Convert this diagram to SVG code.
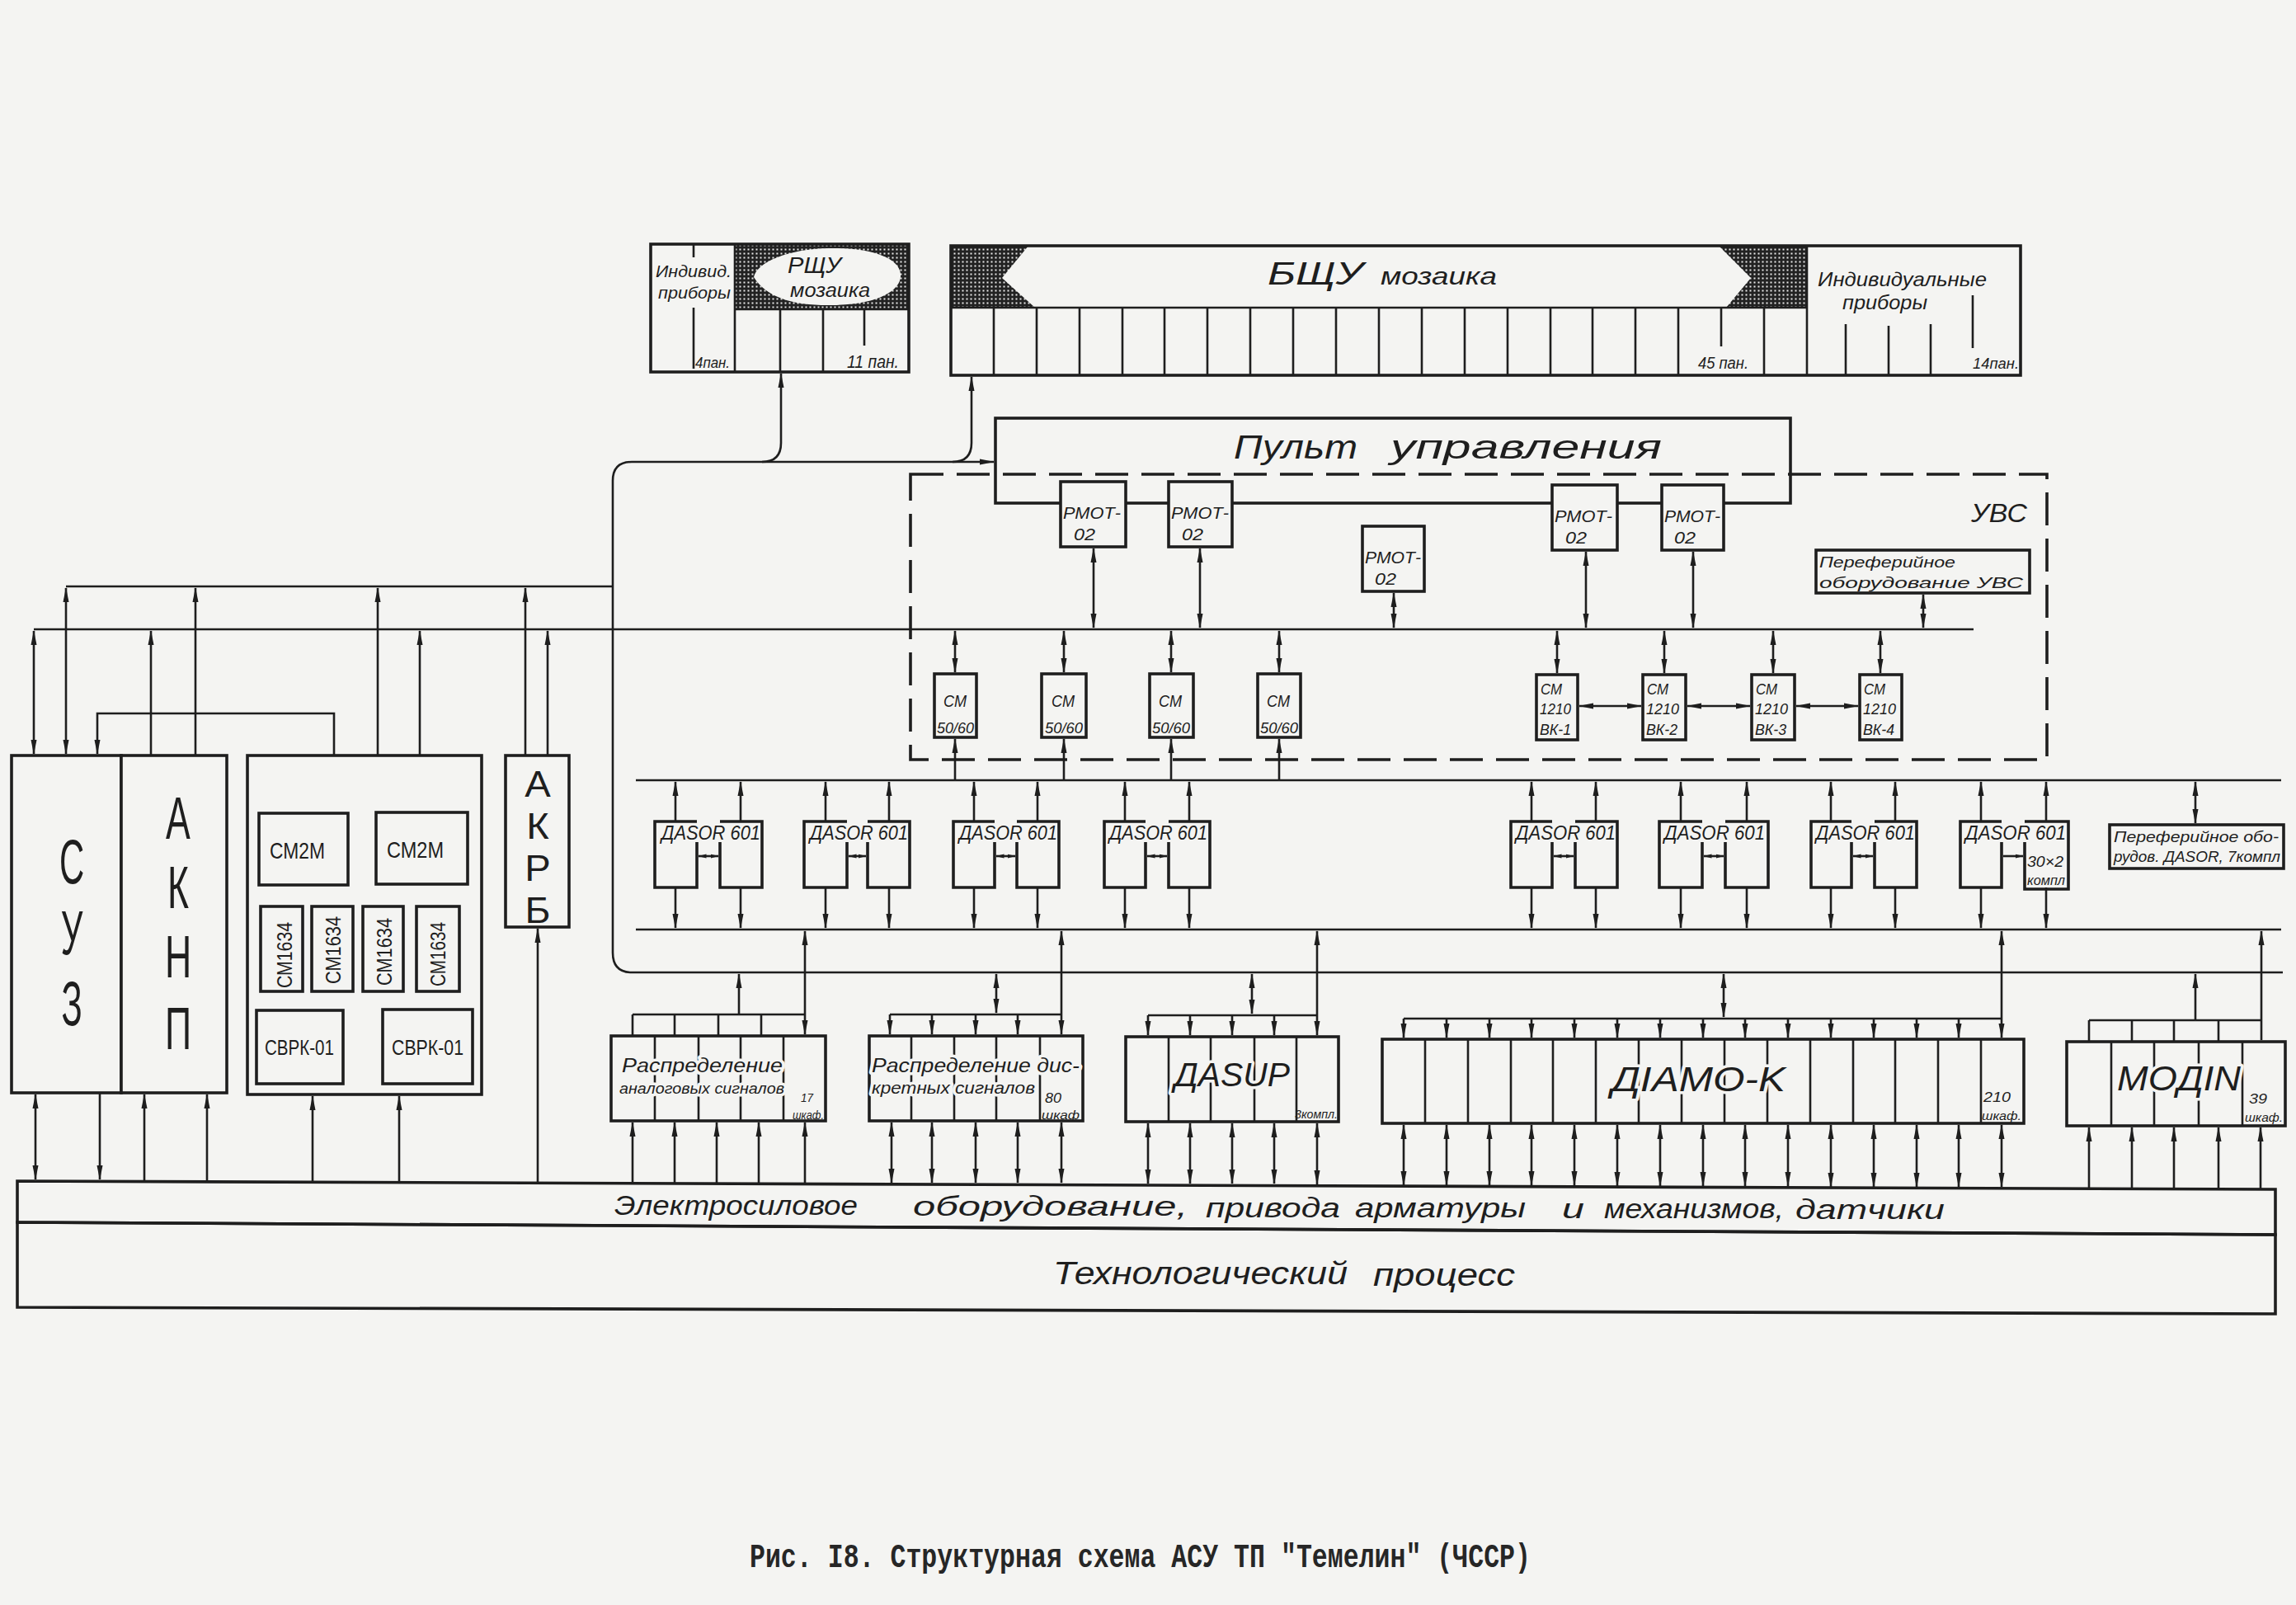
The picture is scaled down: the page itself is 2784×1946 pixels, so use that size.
<svg xmlns="http://www.w3.org/2000/svg" width="2784" height="1946" viewBox="0 0 2784 1946">
<defs>
<style>
.b{fill:none;stroke:#1e1e1e;stroke-width:3.6}
.bf{fill:#f4f4f2;stroke:#1e1e1e;stroke-width:3.6}
.c{fill:none;stroke:#1e1e1e;stroke-width:2.6}
.dash{fill:none;stroke:#1e1e1e;stroke-width:3.6;stroke-dasharray:40 16}
.e{marker-end:url(#ah)}
.d{marker-start:url(#ah);marker-end:url(#ah)}
.ds{marker-start:url(#as);marker-end:url(#as)}
.es{marker-end:url(#as)}
.h{font-family:"Liberation Sans","DejaVu Sans",sans-serif;font-style:italic;fill:#1e1e1e}
.u{font-family:"Liberation Sans","DejaVu Sans",sans-serif;fill:#1e1e1e}
.m{paint-order:stroke;stroke:#f4f4f2;stroke-width:7;stroke-linejoin:round}
.cap{font-family:"Liberation Mono","DejaVu Sans Mono",monospace;font-weight:bold;fill:#262626}
</style>
<marker id="ah" markerUnits="userSpaceOnUse" markerWidth="18" markerHeight="8" viewBox="0 0 18 8" refX="17" refY="4" orient="auto-start-reverse"><path d="M0,0.5 L18,4 L0,7.5 Z" fill="#1e1e1e"/></marker>
<marker id="as" markerUnits="userSpaceOnUse" markerWidth="10" markerHeight="6" viewBox="0 0 10 6" refX="9.5" refY="3" orient="auto-start-reverse"><path d="M0,0.5 L10,3 L0,5.5 Z" fill="#1e1e1e"/></marker>
<pattern id="hatch" width="5" height="5" patternUnits="userSpaceOnUse"><rect width="5" height="5" fill="#222"/><rect x="1.5" y="1.5" width="2" height="2" fill="#e8e8e8"/></pattern>
</defs>
<rect width="2784" height="1946" fill="#f4f4f2"/>

<g id="connectors">
<path class="c e" d="M743,1155V583Q743,560 766,560H1205"/>
<path class="c e" d="M924,560Q947,560 947,537V453"/>
<path class="c e" d="M1155,560Q1178,560 1178,537V457"/>
<path class="c" d="M743,1155Q743,1179 766,1179H2768"/>
<path class="c" d="M80,711H743"/>
<path class="c" d="M41,763H2393"/>
<path class="c" d="M771,946H2766"/>
<path class="c" d="M771,1127H2766"/>
<line class="c d" x1="80" y1="713" x2="80" y2="914"/>
<line class="c d" x1="41" y1="765" x2="41" y2="914"/>
<line class="c e" x1="237" y1="916" x2="237" y2="713"/>
<line class="c e" x1="183" y1="916" x2="183" y2="765"/>
<line class="c e" x1="458" y1="916" x2="458" y2="713"/>
<line class="c e" x1="509" y1="916" x2="509" y2="765"/>
<line class="c e" x1="637" y1="916" x2="637" y2="713"/>
<line class="c e" x1="664" y1="916" x2="664" y2="765"/>
<path class="c e" d="M405,916V865H118V914"/>
<line class="c d" x1="43" y1="1327" x2="43" y2="1430"/>
<line class="c e" x1="121" y1="1325" x2="121" y2="1430"/>
<line class="c e" x1="175" y1="1432" x2="175" y2="1327"/>
<line class="c e" x1="251" y1="1432" x2="251" y2="1327"/>
<line class="c e" x1="379" y1="1433" x2="379" y2="1329"/>
<line class="c e" x1="484" y1="1433" x2="484" y2="1329"/>
<line class="c e" x1="652" y1="1434" x2="652" y2="1126"/>
<line class="c d" x1="1326" y1="665" x2="1326" y2="761"/>
<line class="c d" x1="1455" y1="665" x2="1455" y2="761"/>
<line class="c d" x1="1690" y1="719" x2="1690" y2="761"/>
<line class="c d" x1="1923" y1="669" x2="1923" y2="761"/>
<line class="c d" x1="2053" y1="669" x2="2053" y2="761"/>
<line class="c d" x1="2332" y1="721" x2="2332" y2="761"/>
<line class="c d" x1="1158" y1="765" x2="1158" y2="815"/>
<line class="c d" x1="1290" y1="765" x2="1290" y2="815"/>
<line class="c d" x1="1420" y1="765" x2="1420" y2="815"/>
<line class="c d" x1="1551" y1="765" x2="1551" y2="815"/>
<line class="c e" x1="1158" y1="946" x2="1158" y2="896"/>
<line class="c e" x1="1290" y1="946" x2="1290" y2="896"/>
<line class="c e" x1="1420" y1="946" x2="1420" y2="896"/>
<line class="c e" x1="1551" y1="946" x2="1551" y2="896"/>
<line class="c d" x1="1888" y1="765" x2="1888" y2="816"/>
<line class="c d" x1="2018" y1="765" x2="2018" y2="816"/>
<line class="c d" x1="2150" y1="765" x2="2150" y2="816"/>
<line class="c d" x1="2280" y1="765" x2="2280" y2="816"/>
<line class="c d" x1="1915" y1="856" x2="1990" y2="856"/>
<line class="c d" x1="2046" y1="856" x2="2122" y2="856"/>
<line class="c d" x1="2178" y1="856" x2="2253" y2="856"/>
<line class="c e" x1="819" y1="996" x2="819" y2="948"/><line class="c e" x1="898" y1="996" x2="898" y2="948"/>
<line class="c e" x1="1001" y1="996" x2="1001" y2="948"/><line class="c e" x1="1078" y1="996" x2="1078" y2="948"/>
<line class="c e" x1="1181" y1="996" x2="1181" y2="948"/><line class="c e" x1="1258" y1="996" x2="1258" y2="948"/>
<line class="c e" x1="1364" y1="996" x2="1364" y2="948"/><line class="c e" x1="1442" y1="996" x2="1442" y2="948"/>
<line class="c e" x1="1857" y1="996" x2="1857" y2="948"/><line class="c e" x1="1935" y1="996" x2="1935" y2="948"/>
<line class="c e" x1="2038" y1="996" x2="2038" y2="948"/><line class="c e" x1="2118" y1="996" x2="2118" y2="948"/>
<line class="c e" x1="2220" y1="996" x2="2220" y2="948"/><line class="c e" x1="2298" y1="996" x2="2298" y2="948"/>
<line class="c e" x1="2402" y1="996" x2="2402" y2="948"/><line class="c e" x1="2481" y1="996" x2="2481" y2="948"/>
<line class="c e" x1="819" y1="1076" x2="819" y2="1125"/><line class="c e" x1="898" y1="1076" x2="898" y2="1125"/>
<line class="c e" x1="1001" y1="1076" x2="1001" y2="1125"/><line class="c e" x1="1078" y1="1076" x2="1078" y2="1125"/>
<line class="c e" x1="1181" y1="1076" x2="1181" y2="1125"/><line class="c e" x1="1258" y1="1076" x2="1258" y2="1125"/>
<line class="c e" x1="1364" y1="1076" x2="1364" y2="1125"/><line class="c e" x1="1442" y1="1076" x2="1442" y2="1125"/>
<line class="c e" x1="1857" y1="1076" x2="1857" y2="1125"/><line class="c e" x1="1935" y1="1076" x2="1935" y2="1125"/>
<line class="c e" x1="2038" y1="1076" x2="2038" y2="1125"/><line class="c e" x1="2118" y1="1076" x2="2118" y2="1125"/>
<line class="c e" x1="2220" y1="1076" x2="2220" y2="1125"/><line class="c e" x1="2298" y1="1076" x2="2298" y2="1125"/>
<line class="c e" x1="2402" y1="1076" x2="2402" y2="1125"/><line class="c e" x1="2481" y1="1076" x2="2481" y2="1125"/>
<line class="c d" x1="2662" y1="948" x2="2662" y2="998"/>
<line class="c d" x1="976" y1="1129" x2="976" y2="1254"/>
<line class="c d" x1="1287" y1="1129" x2="1287" y2="1254"/>
<line class="c d" x1="1597" y1="1129" x2="1597" y2="1255"/>
<line class="c d" x1="2427" y1="1129" x2="2427" y2="1258"/>
<line class="c e" x1="2742" y1="1261" x2="2742" y2="1129"/>
<line class="c e" x1="896" y1="1230" x2="896" y2="1181"/>
<line class="c d" x1="1208" y1="1181" x2="1208" y2="1228"/>
<line class="c d" x1="1518" y1="1181" x2="1518" y2="1229"/>
<line class="c d" x1="2090" y1="1181" x2="2090" y2="1233"/>
<line class="c e" x1="2662" y1="1237" x2="2662" y2="1181"/>
<path class="c" d="M767,1230H976M767,1230V1256M818,1230V1256M871,1230V1256M923,1230V1256"/>
<path class="c" d="M1079,1230H1287"/>
<line class="c e" x1="1079" y1="1230" x2="1079" y2="1254"/><line class="c e" x1="1130" y1="1230" x2="1130" y2="1254"/>
<line class="c e" x1="1183" y1="1230" x2="1183" y2="1254"/><line class="c e" x1="1234" y1="1230" x2="1234" y2="1254"/>
<path class="c" d="M1392,1231H1597"/>
<line class="c e" x1="1392" y1="1231" x2="1392" y2="1255"/><line class="c e" x1="1443" y1="1231" x2="1443" y2="1255"/>
<line class="c e" x1="1494" y1="1231" x2="1494" y2="1255"/><line class="c e" x1="1545" y1="1231" x2="1545" y2="1255"/>
<path class="c" d="M1702,1235H2427"/>
<line class="c e" x1="1702" y1="1235" x2="1702" y2="1258"/><line class="c e" x1="1754" y1="1235" x2="1754" y2="1258"/>
<line class="c e" x1="1806" y1="1235" x2="1806" y2="1258"/><line class="c e" x1="1857" y1="1235" x2="1857" y2="1258"/>
<line class="c e" x1="1909" y1="1235" x2="1909" y2="1258"/><line class="c e" x1="1961" y1="1235" x2="1961" y2="1258"/>
<line class="c e" x1="2013" y1="1235" x2="2013" y2="1258"/><line class="c e" x1="2065" y1="1235" x2="2065" y2="1258"/>
<line class="c e" x1="2116" y1="1235" x2="2116" y2="1258"/><line class="c e" x1="2168" y1="1235" x2="2168" y2="1258"/>
<line class="c e" x1="2220" y1="1235" x2="2220" y2="1258"/><line class="c e" x1="2272" y1="1235" x2="2272" y2="1258"/>
<line class="c e" x1="2324" y1="1235" x2="2324" y2="1258"/><line class="c e" x1="2375" y1="1235" x2="2375" y2="1258"/>
<path class="c" d="M2533,1237H2742M2533,1237V1263M2585,1237V1263M2636,1237V1263M2690,1237V1263"/>
<line class="c e" x1="767" y1="1435" x2="767" y2="1361"/><line class="c e" x1="818" y1="1435" x2="818" y2="1361"/>
<line class="c e" x1="869" y1="1435" x2="869" y2="1361"/><line class="c e" x1="920" y1="1435" x2="920" y2="1361"/>
<line class="c e" x1="976" y1="1435" x2="976" y2="1361"/>
<line class="c d" x1="1081" y1="1361" x2="1081" y2="1434"/><line class="c d" x1="1130" y1="1361" x2="1130" y2="1434"/>
<line class="c d" x1="1183" y1="1361" x2="1183" y2="1434"/><line class="c d" x1="1234" y1="1361" x2="1234" y2="1434"/>
<line class="c d" x1="1287" y1="1361" x2="1287" y2="1434"/>
<line class="c d" x1="1392" y1="1362" x2="1392" y2="1435"/><line class="c d" x1="1443" y1="1362" x2="1443" y2="1435"/>
<line class="c d" x1="1494" y1="1362" x2="1494" y2="1435"/><line class="c d" x1="1545" y1="1362" x2="1545" y2="1435"/>
<line class="c d" x1="1597" y1="1362" x2="1597" y2="1436"/>
<line class="c d" x1="1702" y1="1364" x2="1702" y2="1437"/><line class="c d" x1="1754" y1="1364" x2="1754" y2="1437"/>
<line class="c d" x1="1806" y1="1364" x2="1806" y2="1437"/><line class="c d" x1="1857" y1="1364" x2="1857" y2="1437"/>
<line class="c d" x1="1909" y1="1364" x2="1909" y2="1437"/><line class="c d" x1="1961" y1="1364" x2="1961" y2="1438"/>
<line class="c d" x1="2013" y1="1364" x2="2013" y2="1438"/><line class="c d" x1="2065" y1="1364" x2="2065" y2="1438"/>
<line class="c d" x1="2116" y1="1364" x2="2116" y2="1438"/><line class="c d" x1="2168" y1="1364" x2="2168" y2="1438"/>
<line class="c d" x1="2220" y1="1364" x2="2220" y2="1439"/><line class="c d" x1="2272" y1="1364" x2="2272" y2="1439"/>
<line class="c d" x1="2324" y1="1364" x2="2324" y2="1439"/><line class="c d" x1="2375" y1="1364" x2="2375" y2="1439"/>
<line class="c d" x1="2427" y1="1364" x2="2427" y2="1439"/>
<line class="c e" x1="2533" y1="1440" x2="2533" y2="1367"/><line class="c e" x1="2585" y1="1440" x2="2585" y2="1367"/>
<line class="c e" x1="2636" y1="1441" x2="2636" y2="1367"/><line class="c e" x1="2690" y1="1441" x2="2690" y2="1367"/>
<line class="c e" x1="2741" y1="1441" x2="2741" y2="1367"/>
</g>

<g id="rshu">
<rect x="891" y="296" width="211" height="79" fill="url(#hatch)"/>
<path d="M914,336 C918,318 955,302 1005,301 C1055,300 1090,312 1092,332 C1094,352 1065,369 1010,370 C965,371 930,362 914,336 Z" fill="#f4f4f2"/>
<rect class="b" x="789" y="296" width="313" height="155"/>
<path class="c" d="M891,296V451M891,375H1102M946,375V451M998,375V451M1048,375V419M841,296V312M841,373V447"/>
<text class="h" x="795" y="336" font-size="21" textLength="92" lengthAdjust="spacingAndGlyphs">Индивид.</text>
<text class="h" x="798" y="362" font-size="21" textLength="88" lengthAdjust="spacingAndGlyphs">приборы</text>
<text class="h" x="955" y="331" font-size="28" textLength="65" lengthAdjust="spacingAndGlyphs">РЩУ</text>
<text class="h" x="958" y="360" font-size="23" textLength="97" lengthAdjust="spacingAndGlyphs">мозаика</text>
<text class="h" x="843" y="446" font-size="18" textLength="42" lengthAdjust="spacingAndGlyphs">4пан.</text>
<text class="h" x="1027" y="446" font-size="22" textLength="63" lengthAdjust="spacingAndGlyphs">11 пан.</text>
</g>

<g id="bshu">
<polygon points="1153,298 1247,298 1215,337 1255,373 1153,373" fill="url(#hatch)"/>
<polygon points="2084,298 2191,298 2191,373 2093,373 2123,337" fill="url(#hatch)"/>
<rect class="b" x="1153" y="298" width="1297" height="157"/>
<path class="c" d="M2191,298V455M1153,373H2191M1205,373V455M1257,373V455M1309,373V455M1361,373V455M1412,373V455M1464,373V455M1516,373V455M1568,373V455M1620,373V455M1672,373V455M1724,373V455M1776,373V455M1828,373V455M1880,373V455M1931,373V455M1983,373V455M2035,373V455M2087,373V420M2139,373V455M2238,393V455M2290,395V455M2341,393V455M2392,358V422"/>
<text class="h" x="1537" y="345" font-size="38" textLength="116" lengthAdjust="spacingAndGlyphs">БЩУ</text>
<text class="h" x="1674" y="345" font-size="30" textLength="141" lengthAdjust="spacingAndGlyphs">мозаика</text>
<text class="h" x="2059" y="447" font-size="20" textLength="61" lengthAdjust="spacingAndGlyphs">45 пан.</text>
<text class="h" x="2204" y="347" font-size="24" textLength="205" lengthAdjust="spacingAndGlyphs">Индивидуальные</text>
<text class="h" x="2234" y="375" font-size="24" textLength="103" lengthAdjust="spacingAndGlyphs">приборы</text>
<text class="h" x="2392" y="447" font-size="18" textLength="56" lengthAdjust="spacingAndGlyphs">14пан.</text>
</g>

<g id="uvs">
<rect class="dash" x="1104" y="575" width="1378" height="346"/>
<text class="h" x="2390" y="633" font-size="32" textLength="68" lengthAdjust="spacingAndGlyphs">УВС</text>
</g>

<g id="pult">
<rect class="b" x="1207" y="507" width="964" height="103"/>
<text class="h" font-size="40"><tspan x="1496" y="556" textLength="150" lengthAdjust="spacingAndGlyphs">Пульт</tspan><tspan x="1686" y="556" textLength="329" lengthAdjust="spacingAndGlyphs">управления</tspan></text>
</g>

<g id="rmot-1"><rect class="bf" x="1286" y="584" width="79" height="79"/><text class="h" x="1289" y="629" font-size="21" textLength="70" lengthAdjust="spacingAndGlyphs">РМОТ-</text><text class="h" x="1302" y="655" font-size="20" textLength="26" lengthAdjust="spacingAndGlyphs">02</text></g>
<g id="rmot-2"><rect class="bf" x="1417" y="584" width="77" height="79"/><text class="h" x="1420" y="629" font-size="21" textLength="70" lengthAdjust="spacingAndGlyphs">РМОТ-</text><text class="h" x="1433" y="655" font-size="20" textLength="26" lengthAdjust="spacingAndGlyphs">02</text></g>
<g id="rmot-3"><rect class="bf" x="1652" y="638" width="75" height="79"/><text class="h" x="1655" y="683" font-size="21" textLength="68" lengthAdjust="spacingAndGlyphs">РМОТ-</text><text class="h" x="1667" y="709" font-size="20" textLength="26" lengthAdjust="spacingAndGlyphs">02</text></g>
<g id="rmot-4"><rect class="bf" x="1882" y="588" width="79" height="79"/><text class="h" x="1885" y="633" font-size="21" textLength="70" lengthAdjust="spacingAndGlyphs">РМОТ-</text><text class="h" x="1898" y="659" font-size="20" textLength="26" lengthAdjust="spacingAndGlyphs">02</text></g>
<g id="rmot-5"><rect class="bf" x="2015" y="588" width="75" height="79"/><text class="h" x="2018" y="633" font-size="21" textLength="68" lengthAdjust="spacingAndGlyphs">РМОТ-</text><text class="h" x="2030" y="659" font-size="20" textLength="26" lengthAdjust="spacingAndGlyphs">02</text></g>

<g id="periph-uvs"><rect class="bf" x="2202" y="667" width="259" height="52"/>
<text class="h" x="2206" y="688" font-size="19" textLength="165" lengthAdjust="spacingAndGlyphs">Переферийное</text>
<text class="h" x="2206" y="713" font-size="19" textLength="247" lengthAdjust="spacingAndGlyphs">оборудование УВС</text></g>

<g id="cm5060-1"><rect class="bf" x="1133" y="817" width="51" height="77"/><text class="h" x="1144" y="857" font-size="20" textLength="28" lengthAdjust="spacingAndGlyphs">СМ</text><text class="h" x="1136" y="889" font-size="18" textLength="45" lengthAdjust="spacingAndGlyphs">50/60</text></g>
<g id="cm5060-2"><rect class="bf" x="1263" y="817" width="54" height="77"/><text class="h" x="1275" y="857" font-size="20" textLength="28" lengthAdjust="spacingAndGlyphs">СМ</text><text class="h" x="1267" y="889" font-size="18" textLength="46" lengthAdjust="spacingAndGlyphs">50/60</text></g>
<g id="cm5060-3"><rect class="bf" x="1394" y="817" width="53" height="77"/><text class="h" x="1405" y="857" font-size="20" textLength="28" lengthAdjust="spacingAndGlyphs">СМ</text><text class="h" x="1397" y="889" font-size="18" textLength="46" lengthAdjust="spacingAndGlyphs">50/60</text></g>
<g id="cm5060-4"><rect class="bf" x="1525" y="817" width="52" height="77"/><text class="h" x="1536" y="857" font-size="20" textLength="28" lengthAdjust="spacingAndGlyphs">СМ</text><text class="h" x="1528" y="889" font-size="18" textLength="46" lengthAdjust="spacingAndGlyphs">50/60</text></g>

<g id="cm1210-1"><rect class="bf" x="1863" y="818" width="50" height="79"/><text class="h" x="1868" y="842" font-size="18" textLength="26" lengthAdjust="spacingAndGlyphs">СМ</text><text class="h" x="1867" y="866" font-size="18" textLength="38" lengthAdjust="spacingAndGlyphs">1210</text><text class="h" x="1867" y="891" font-size="18" textLength="38" lengthAdjust="spacingAndGlyphs">ВК-1</text></g>
<g id="cm1210-2"><rect class="bf" x="1992" y="818" width="52" height="79"/><text class="h" x="1997" y="842" font-size="18" textLength="26" lengthAdjust="spacingAndGlyphs">СМ</text><text class="h" x="1996" y="866" font-size="18" textLength="40" lengthAdjust="spacingAndGlyphs">1210</text><text class="h" x="1996" y="891" font-size="18" textLength="38" lengthAdjust="spacingAndGlyphs">ВК-2</text></g>
<g id="cm1210-3"><rect class="bf" x="2124" y="818" width="52" height="79"/><text class="h" x="2129" y="842" font-size="18" textLength="26" lengthAdjust="spacingAndGlyphs">СМ</text><text class="h" x="2128" y="866" font-size="18" textLength="40" lengthAdjust="spacingAndGlyphs">1210</text><text class="h" x="2128" y="891" font-size="18" textLength="38" lengthAdjust="spacingAndGlyphs">ВК-3</text></g>
<g id="cm1210-4"><rect class="bf" x="2255" y="818" width="51" height="79"/><text class="h" x="2260" y="842" font-size="18" textLength="26" lengthAdjust="spacingAndGlyphs">СМ</text><text class="h" x="2259" y="866" font-size="18" textLength="40" lengthAdjust="spacingAndGlyphs">1210</text><text class="h" x="2259" y="891" font-size="18" textLength="38" lengthAdjust="spacingAndGlyphs">ВК-4</text></g>

<g id="suz"><rect class="bf" x="14" y="916" width="133" height="409"/>
<g class="u" font-size="76" text-anchor="middle">
<text transform="translate(87,1071) scale(0.55,1)">С</text>
<text transform="translate(87,1157) scale(0.55,1)">У</text>
<text transform="translate(87,1243) scale(0.55,1)">З</text></g></g>
<g id="aknp"><rect class="bf" x="147" y="916" width="128" height="409"/>
<g class="u" font-size="72" text-anchor="middle">
<text transform="translate(216,1017) scale(0.62,1)">А</text>
<text transform="translate(216,1101) scale(0.62,1)">К</text>
<text transform="translate(216,1185) scale(0.62,1)">Н</text>
<text transform="translate(216,1272) scale(0.62,1)">П</text></g></g>

<g id="ivk"><rect class="bf" x="300" y="916" width="284" height="411"/>
<g id="cm2m-1"><rect class="b" x="314" y="986" width="108" height="87"/><text class="u" x="327" y="1041" font-size="28" textLength="67" lengthAdjust="spacingAndGlyphs">СМ2М</text></g>
<g id="cm2m-2"><rect class="b" x="456" y="985" width="111" height="87"/><text class="u" x="469" y="1040" font-size="28" textLength="69" lengthAdjust="spacingAndGlyphs">СМ2М</text></g>
<g id="cm1634-1"><rect class="b" x="316" y="1099" width="51" height="103"/><text class="u" transform="translate(345,1158) rotate(-90)" x="0" y="9" font-size="26" text-anchor="middle" textLength="80" lengthAdjust="spacingAndGlyphs">СМ1634</text></g>
<g id="cm1634-2"><rect class="b" x="378" y="1099" width="50" height="103"/><text class="u" transform="translate(404,1152) rotate(-90)" x="0" y="9" font-size="26" text-anchor="middle" textLength="82" lengthAdjust="spacingAndGlyphs">СМ1634</text></g>
<g id="cm1634-3"><rect class="b" x="440" y="1099" width="49" height="103"/><text class="u" transform="translate(466,1154) rotate(-90)" x="0" y="9" font-size="26" text-anchor="middle" textLength="82" lengthAdjust="spacingAndGlyphs">СМ1634</text></g>
<g id="cm1634-4"><rect class="b" x="505" y="1099" width="52" height="103"/><text class="u" transform="translate(531,1157) rotate(-90)" x="0" y="9" font-size="26" text-anchor="middle" textLength="78" lengthAdjust="spacingAndGlyphs">СМ1634</text></g>
<g id="svrk-1"><rect class="b" x="311" y="1225" width="105" height="89"/><text class="u" x="321" y="1279" font-size="25" textLength="84" lengthAdjust="spacingAndGlyphs">СВРК-01</text></g>
<g id="svrk-2"><rect class="b" x="464" y="1224" width="109" height="90"/><text class="u" x="475" y="1279" font-size="25" textLength="87" lengthAdjust="spacingAndGlyphs">СВРК-01</text></g>
</g>

<g id="akrb"><rect class="bf" x="613" y="916" width="77" height="208"/>
<g class="u" font-size="45" text-anchor="middle">
<text transform="translate(652,966) scale(1.05,1)">А</text>
<text transform="translate(652,1017) scale(1.05,1)">К</text>
<text transform="translate(652,1068) scale(1.05,1)">Р</text>
<text transform="translate(652,1119) scale(1.05,1)">Б</text></g></g>

<g id="dasor-1"><path class="b" d="M845,1021V1076H794V996H845M873,1021V1076H924V996H873"/><line class="c ds" x1="847" y1="1038" x2="871" y2="1038"/><text class="h" x="802" y="1018" font-size="24" textLength="120" lengthAdjust="spacingAndGlyphs">ДASOR 601</text></g>
<g id="dasor-2"><path class="b" d="M1027,1021V1076H975V996H1027M1052,1021V1076H1103V996H1052"/><line class="c ds" x1="1029" y1="1038" x2="1050" y2="1038"/><text class="h" x="982" y="1018" font-size="24" textLength="119" lengthAdjust="spacingAndGlyphs">ДASOR 601</text></g>
<g id="dasor-3"><path class="b" d="M1206,1021V1076H1156V996H1206M1233,1021V1076H1284V996H1233"/><line class="c ds" x1="1208" y1="1038" x2="1231" y2="1038"/><text class="h" x="1163" y="1018" font-size="24" textLength="119" lengthAdjust="spacingAndGlyphs">ДASOR 601</text></g>
<g id="dasor-4"><path class="b" d="M1389,1021V1076H1339V996H1389M1417,1021V1076H1467V996H1417"/><line class="c ds" x1="1391" y1="1038" x2="1415" y2="1038"/><text class="h" x="1345" y="1018" font-size="24" textLength="119" lengthAdjust="spacingAndGlyphs">ДASOR 601</text></g>
<g id="dasor-5"><path class="b" d="M1882,1021V1076H1832V996H1882M1910,1021V1076H1961V996H1910"/><line class="c ds" x1="1884" y1="1038" x2="1908" y2="1038"/><text class="h" x="1838" y="1018" font-size="24" textLength="121" lengthAdjust="spacingAndGlyphs">ДASOR 601</text></g>
<g id="dasor-6"><path class="b" d="M2064,1021V1076H2012V996H2064M2092,1021V1076H2144V996H2092"/><line class="c ds" x1="2066" y1="1038" x2="2090" y2="1038"/><text class="h" x="2018" y="1018" font-size="24" textLength="122" lengthAdjust="spacingAndGlyphs">ДASOR 601</text></g>
<g id="dasor-7"><path class="b" d="M2245,1021V1076H2196V996H2245M2273,1021V1076H2324V996H2273"/><line class="c ds" x1="2247" y1="1038" x2="2271" y2="1038"/><text class="h" x="2202" y="1018" font-size="24" textLength="120" lengthAdjust="spacingAndGlyphs">ДASOR 601</text></g>
<g id="dasor-8"><path class="b" d="M2427,1021V1076H2377V996H2427M2455,1021V1078H2508V996H2455"/><line class="c es" x1="2429" y1="1038" x2="2453" y2="1038"/><text class="h" x="2383" y="1018" font-size="24" textLength="122" lengthAdjust="spacingAndGlyphs">ДASOR 601</text>
<text class="h" x="2458" y="1051" font-size="19" textLength="44" lengthAdjust="spacingAndGlyphs">30×2</text><text class="h" x="2458" y="1073" font-size="16" textLength="46" lengthAdjust="spacingAndGlyphs">компл</text></g>

<g id="periph-dasor"><rect class="bf" x="2558" y="1000" width="211" height="53"/>
<text class="h" x="2563" y="1021" font-size="19" textLength="200" lengthAdjust="spacingAndGlyphs">Переферийное обо-</text>
<text class="h" x="2563" y="1045" font-size="19" textLength="202" lengthAdjust="spacingAndGlyphs">рудов. ДASOR, 7компл</text></g>

<g id="analog"><rect class="bf" x="741" y="1256" width="260" height="103"/>
<path class="c" d="M794,1256V1359M847,1256V1359M898,1256V1359M950,1256V1359"/>
<text class="h m" x="754" y="1300" font-size="23" textLength="195" lengthAdjust="spacingAndGlyphs">Распределение</text>
<text class="h m" x="751" y="1326" font-size="19" textLength="200" lengthAdjust="spacingAndGlyphs">аналоговых  сигналов</text>
<text class="h" x="971" y="1336" font-size="15" textLength="15" lengthAdjust="spacingAndGlyphs">17</text>
<text class="h" x="961" y="1357" font-size="14" textLength="38" lengthAdjust="spacingAndGlyphs">шкаф.</text></g>

<g id="discrete"><rect class="bf" x="1054" y="1256" width="259" height="103"/>
<path class="c" d="M1105,1256V1359M1157,1256V1359M1208,1256V1359M1261,1256V1359"/>
<text class="h m" x="1057" y="1300" font-size="23" textLength="252" lengthAdjust="spacingAndGlyphs">Распределение дис-</text>
<text class="h m" x="1057" y="1326" font-size="21" textLength="198" lengthAdjust="spacingAndGlyphs">кретных  сигналов</text>
<text class="h" x="1267" y="1337" font-size="16" textLength="20" lengthAdjust="spacingAndGlyphs">80</text>
<text class="h" x="1263" y="1357" font-size="14" textLength="46" lengthAdjust="spacingAndGlyphs">шкаф</text></g>

<g id="dasup"><rect class="bf" x="1365" y="1257" width="258" height="103"/>
<path class="c" d="M1417,1257V1360M1468,1257V1360M1521,1257V1360M1572,1257V1360"/>
<text class="h m" x="1424" y="1317" font-size="40" textLength="140" lengthAdjust="spacingAndGlyphs">ДASUP</text>
<text class="h" x="1570" y="1356" font-size="15" textLength="52" lengthAdjust="spacingAndGlyphs">3компл.</text></g>

<g id="diamo-k"><rect class="bf" x="1676" y="1260" width="778" height="102"/>
<path class="c" d="M1728,1260V1362M1780,1260V1362M1832,1260V1362M1883,1260V1362M1935,1260V1362M1987,1260V1362M2039,1260V1362M2091,1260V1362M2143,1260V1362M2195,1260V1362M2247,1260V1362M2298,1260V1362M2350,1260V1362M2402,1260V1362"/>
<text class="h m" x="1954" y="1323" font-size="42" textLength="211" lengthAdjust="spacingAndGlyphs">ДIAMO-K</text>
<text class="h" x="2405" y="1336" font-size="17" textLength="33" lengthAdjust="spacingAndGlyphs">210</text>
<text class="h" x="2403" y="1358" font-size="15" textLength="48" lengthAdjust="spacingAndGlyphs">шкаф.</text></g>

<g id="modin"><rect class="bf" x="2506" y="1263" width="265" height="102"/>
<path class="c" d="M2560,1263V1365M2612,1263V1365M2666,1263V1365M2719,1263V1365"/>
<text class="h m" x="2567" y="1322" font-size="42" textLength="150" lengthAdjust="spacingAndGlyphs">MOДIN</text>
<text class="h" x="2727" y="1338" font-size="17" textLength="22" lengthAdjust="spacingAndGlyphs">39</text>
<text class="h" x="2722" y="1360" font-size="15" textLength="46" lengthAdjust="spacingAndGlyphs">шкаф.</text></g>

<g id="electro">
<polygon class="b" points="21,1432 2759,1442 2759,1497 21,1482"/>
<text class="h" font-size="34">
<tspan x="745" y="1473" textLength="295" lengthAdjust="spacingAndGlyphs">Электросиловое</tspan>
<tspan x="1107" y="1474" textLength="333" lengthAdjust="spacingAndGlyphs">оборудование,</tspan>
<tspan x="1462" y="1476" textLength="163" lengthAdjust="spacingAndGlyphs">привода</tspan>
<tspan x="1643" y="1476" textLength="207" lengthAdjust="spacingAndGlyphs">арматуры</tspan>
<tspan x="1894" y="1477" textLength="27" lengthAdjust="spacingAndGlyphs">и</tspan>
<tspan x="1945" y="1477" textLength="218" lengthAdjust="spacingAndGlyphs">механизмов,</tspan>
<tspan x="2177" y="1478" textLength="181" lengthAdjust="spacingAndGlyphs">датчики</tspan>
</text></g>

<g id="process">
<polygon class="b" points="21,1482 2759,1497 2759,1593 21,1585"/>
<text class="h" font-size="38">
<tspan x="1277" y="1557" textLength="357" lengthAdjust="spacingAndGlyphs">Технологический</tspan>
<tspan x="1665" y="1559" textLength="172" lengthAdjust="spacingAndGlyphs">процесс</tspan>
</text></g>

<g id="caption">
<text class="cap" transform="translate(0,1900) scale(1,1.25)" x="909" y="0" font-size="32" textLength="947" lengthAdjust="spacingAndGlyphs">Рис. I8. Структурная схема АСУ ТП "Темелин" (ЧССР)</text>
</g>
</svg>
